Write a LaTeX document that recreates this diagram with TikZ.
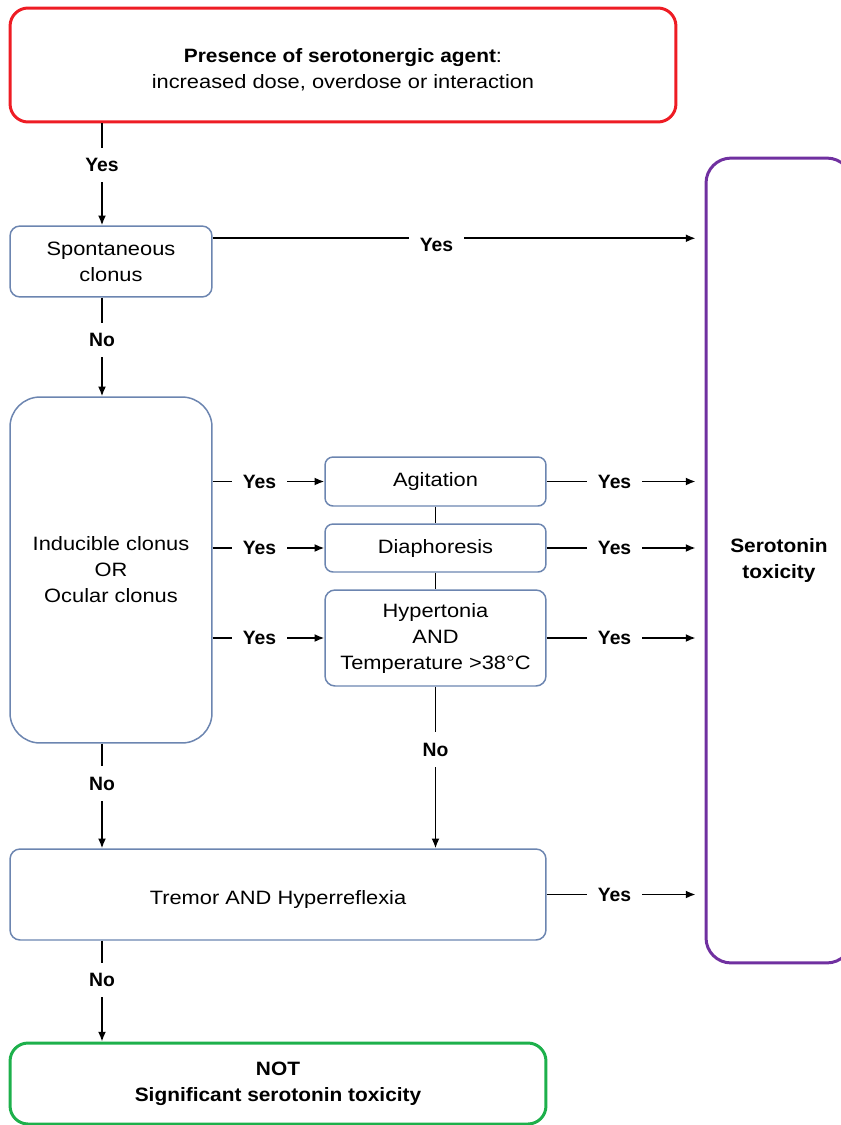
\documentclass[tikz,border=0pt]{standalone}
\usepackage{fontspec}
\setmainfont{Liberation Sans}[FakeStretch=1.13, BoldFeatures={FakeStretch=1.08}]
\newfontfamily\lblfont{Liberation Sans}
\usetikzlibrary{calc, positioning, arrows.meta}
\definecolor{boxblue}{HTML}{6C85B0}
\definecolor{startred}{HTML}{EE1C24}
\definecolor{endpurple}{HTML}{7030A0}
\definecolor{endgreen}{HTML}{1DB04B}
\newcommand\chartfont{\fontsize{11}{14.8}\selectfont}
\tikzset{
  box/.style={draw=boxblue, line width=0.85pt, rounded corners=0.2cm, align=center, inner sep=0pt, font=\chartfont},
  bigbox/.style={box, line width=1.7pt, rounded corners=0.36cm},
  arr/.style={-{Latex[length=5.5pt,width=4.5pt]}, line width=0.9pt},
  lbl/.style={fill=white, inner sep=6pt, font=\chartfont\lblfont\bfseries},
}

\begin{document}
\begin{tikzpicture}[x=0.02cm,y=-0.02cm]
\useasboundingbox (0,0) rectangle (841,1125);
\clip (0,0) rectangle (841,1125);

\node[bigbox, draw=startred, minimum width=13.32cm, minimum height=2.28cm] (start) at (343,65)
  {\rule{0pt}{13.6pt}\textbf{Presence of serotonergic agent}:\\increased dose, overdose or interaction};
\node[box, minimum width=4.04cm, minimum height=1.42cm] (spont) at (111,261.5) {Spontaneous\\clonus};
\node[box, rounded corners=0.6cm, minimum width=4.04cm, minimum height=6.92cm] (induc) at (111,570)
  {Inducible clonus\\OR\\Ocular clonus};
\node[box, rounded corners=0.16cm, minimum width=4.42cm, minimum height=0.98cm] (agit) at (435.5,481.5) {Agitation};
\node[box, rounded corners=0.16cm, minimum width=4.42cm, minimum height=0.96cm] (diaph) at (435.5,548) {Diaphoresis};
\node[box, minimum width=4.42cm, minimum height=1.92cm] (hyper) at (435.5,638)
  {Hypertonia\\AND\\Temperature >38°C};
\node[box, minimum width=10.72cm, minimum height=1.82cm, text height=14pt] (tremor) at (278,894.5) {Tremor AND Hyperreflexia};
\node[bigbox, draw=endgreen, minimum width=10.72cm, minimum height=1.62cm] (notsig) at (278,1083.5)
  {\textbf{NOT}\\\textbf{Significant serotonin toxicity}};
\node[bigbox, draw=endpurple, rounded corners=0.5cm, minimum width=2.92cm, minimum height=16.1cm] (serot) at (779,560.5)
  {\textbf{Serotonin}\\\textbf{toxicity}};

\coordinate (colA) at (102,0);
\coordinate (sp) at ($(spont.north east)+(0,13)$);

\draw[arr] (start.south -| colA) -- (spont.north -| colA) node[lbl,pos=0.41] (yes1) {Yes};
\draw[arr] (spont.south -| colA) -- (induc.north -| colA) node[lbl,pos=0.43] (no1) {No};
\draw[arr] (induc.south -| colA) -- (tremor.north -| colA) node[lbl,pos=0.38] (no2) {No};
\draw[arr] (tremor.south -| colA) -- (notsig.north -| colA) node[lbl,pos=0.39] (no3) {No};
\draw[arr, shorten >=0.18cm] (sp) -- (serot.west |- sp) node[lbl,pos=0.455,yshift=-4pt] (yes2) {Yes};

\foreach \n in {agit,diaph,hyper}
{
  \draw[arr] (induc.east |- \n) -- (\n) node[lbl,pos=0.42] (yesin-\n) {Yes};
  \draw[arr, shorten >=0.18cm] (\n) -- (serot.west |- \n) node[lbl,pos=0.43] (yesout-\n) {Yes};
}
\draw[line width=0.9pt] (agit) -- (diaph);
\draw[line width=0.9pt] (diaph) -- (hyper);
\draw[arr] (hyper) -- (hyper |- tremor.north) node[lbl,pos=0.39] (no4) {No};
\draw[arr, shorten >=0.18cm] (tremor) -- (serot.west |- tremor) node[lbl,pos=0.43] (yes3) {Yes};
\end{tikzpicture}
\end{document}
